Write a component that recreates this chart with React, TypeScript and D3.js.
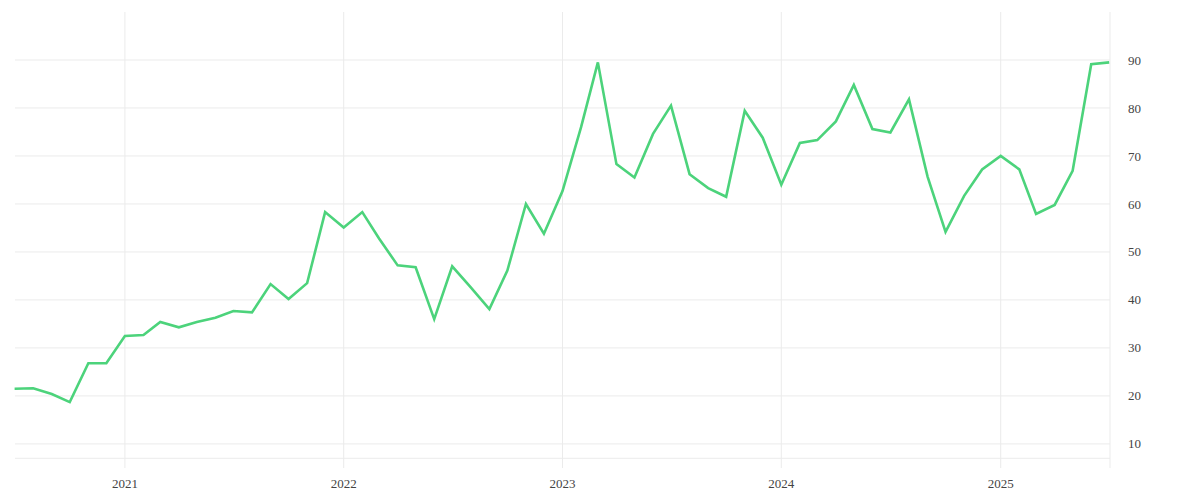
import React from "react";
import * as d3 from "d3";

const startMonth = "2020-07";
const values: number[] = [
  21.5, 21.6, 20.4, 18.7, 26.8, 26.8,
  32.5, 32.7, 35.4, 34.3, 35.4, 36.3, 37.7, 37.4, 43.3, 40.2, 43.5, 58.3,
  55.1, 58.3, 52.8, 47.2, 46.8, 36.0, 47.0, 42.6, 38.1, 46.1, 60.0, 53.8,
  62.7, 76.0, 89.5, 68.3, 65.5, 74.6, 80.5, 66.2, 63.3, 61.5, 79.4, 73.8,
  64.0, 72.7, 73.3, 77.2, 84.8, 75.6, 74.9, 81.8, 65.7, 54.2, 61.7, 67.2,
  70.0, 67.2, 57.9, 59.8, 66.9, 89.1, 89.5,
];
const yTicks = [10, 20, 30, 40, 50, 60, 70, 80, 90];
const yearTicks = ["2021", "2022", "2023", "2024", "2025"];

const parseMonth = d3.timeParse("%Y-%m");
const start = parseMonth(startMonth) as Date;
const data = values.map((v, i) => ({ date: d3.timeMonth.offset(start, i), value: v }));

export default function App() {
  const W = 1200;
  const H = 500;
  const left = 15;
  const right = 1110;
  const top = 12;
  const bottom = 458.3;

  const x = d3
    .scaleTime()
    .domain([data[0].date, data[data.length - 1].date])
    .range([14.6, 1109.2]);
  const y = d3.scaleLinear().domain([7, 100]).range([bottom, top]);

  const line = d3
    .line<{ date: Date; value: number }>()
    .x((d) => x(d.date))
    .y((d) => y(d.value));

  const grid = "#ebebeb";
  const textColor = "#444";
  const font = "'Liberation Serif', serif";

  return (
    <div>
      <style>{`body{margin:0}`}</style>
      <svg width={W} height={H} style={{ display: "block", background: "#fff" }}>
        {yTicks.map((t) => (
          <line key={"h" + t} x1={left} x2={right} y1={y(t)} y2={y(t)} stroke={grid} strokeWidth={1} />
        ))}
        <line x1={left} x2={right} y1={bottom} y2={bottom} stroke={grid} strokeWidth={1} />
        {yearTicks.map((yr) => {
          const xx = x(new Date(+yr, 0, 1));
          return (
            <line key={"v" + yr} x1={xx} x2={xx} y1={top} y2={468} stroke={grid} strokeWidth={1} />
          );
        })}
        <line x1={right} x2={right} y1={top} y2={468} stroke={grid} strokeWidth={1} />
        <path d={line(data) || ""} fill="none" stroke="#4cd37b" strokeWidth={2.6} strokeLinejoin="miter" />
        {yTicks.map((t) => (
          <text
            key={"yl" + t}
            x={1128}
            y={y(t)}
            dy="0.35em"
            fontFamily={font}
            fontSize={13}
            fill={textColor}
          >
            {t}
          </text>
        ))}
        {yearTicks.map((yr) => (
          <text
            key={"xl" + yr}
            x={x(new Date(+yr, 0, 1))}
            y={487.5}
            textAnchor="middle"
            fontFamily={font}
            fontSize={13}
            fill={textColor}
          >
            {yr}
          </text>
        ))}
      </svg>
    </div>
  );
}
